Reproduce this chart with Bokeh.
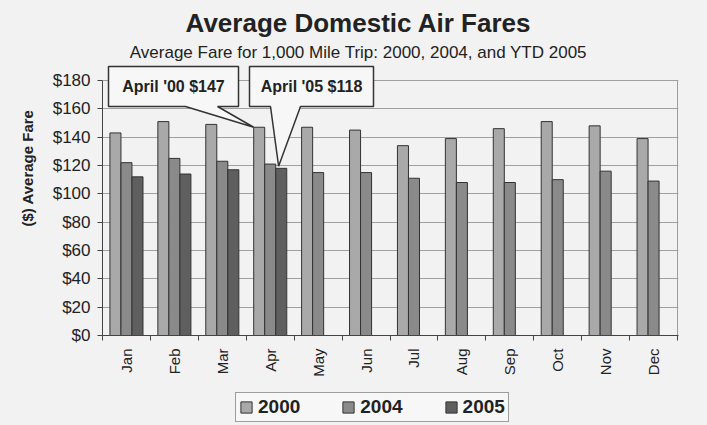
import math
from bokeh.plotting import figure
from bokeh.layouts import column
from bokeh.models import Range1d, FixedTicker, ColumnDataSource, Legend, LegendItem
from bokeh.core.properties import value
from bokeh.embed import file_html
from bokeh.resources import INLINE

# ---------------- data ----------------
months = ["Jan", "Feb", "Mar", "Apr", "May", "Jun",
          "Jul", "Aug", "Sep", "Oct", "Nov", "Dec"]
fare_2000 = [143, 151, 149, 147, 147, 145, 134, 139, 146, 151, 148, 139]
fare_2004 = [122, 125, 123, 121, 115, 115, 111, 108, 108, 110, 116, 109]
fare_2005 = [112, 114, 117, 118]          # YTD 2005 (Jan-Apr)
series_names = ["2000", "2004", "2005"]
y_ticks = [0, 20, 40, 60, 80, 100, 120, 140, 160, 180]
y_tick_labels = ["$0", "$20", "$40", "$60", "$80", "$100", "$120", "$140", "$160", "$180"]
title_text = "Average Domestic Air Fares"
subtitle_text = "Average Fare for 1,000 Mile Trip: 2000, 2004, and YTD 2005"
y_label = "($) Average Fare"
callout_texts = ["April '00 $147", "April '05 $118"]
callout_month = 3   # April

# ---------------- layout / style ----------------
FONT = "Liberation Sans"
BG = "#f2f2f2"
TXT = "#222222"
colors = ["#a9a9a9", "#8a8a8a", "#5f5f5f"]
BAR_W = 0.23
offsets = [-BAR_W, 0.0, BAR_W]
Y_MAX = 180
W = 707
H_MAIN, H_LEG = 380, 45
FRAME_L, FRAME_R, FRAME_B = 102, 678, 335
X_END = 12.02
PX_PER_X = (FRAME_R - FRAME_L) / X_END
PX_PER_Y = 255 / 180.0
y_end = FRAME_B / PX_PER_Y           # frame reaches the top of the canvas


def px_x(px):
    return (px - FRAME_L) / PX_PER_X


def px_y(py):
    return (FRAME_B - py) / PX_PER_Y


p = figure(width=W, height=H_MAIN,
           x_range=Range1d(0, X_END), y_range=Range1d(0, y_end),
           output_backend="svg", toolbar_location=None, title=None,
           min_border_left=FRAME_L, min_border_right=W - FRAME_R,
           min_border_top=0, min_border_bottom=H_MAIN - FRAME_B)
p.background_fill_color = BG
p.border_fill_color = BG
p.outline_line_color = None

# titles
p.text(x=[px_x(358)], y=[px_y(22)], text=[title_text], text_font=value(FONT),
       text_font_size="26px", text_font_style="bold", text_color=TXT,
       text_align="center", text_baseline="alphabetic")
p.text(x=[px_x(358)], y=[px_y(52)], text=[subtitle_text], text_font=value(FONT),
       text_font_size="17px", text_font_style="normal", text_color=TXT,
       text_align="center", text_baseline="alphabetic")

# bars
series = [fare_2000, fare_2004, fare_2005]
for vals, off, col in zip(series, offsets, colors):
    src = ColumnDataSource(dict(x=[i + 0.5 + off for i in range(len(vals))],
                                top=vals))
    p.vbar(x="x", top="top", width=BAR_W, bottom=0, source=src,
           fill_color=col, line_color="#333333", line_width=1)

# plot-area right border
p.line(x=[12, 12], y=[0, Y_MAX], line_color="#9a9a9a", line_width=1)

# callouts
box_top = px_y(66)
box_bot = px_y(106)
tip1 = (callout_month + 0.5 + offsets[0] - BAR_W / 2, fare_2000[callout_month])
tip2 = (callout_month + 0.5 + offsets[2] - BAR_W / 2 + 0.06, fare_2005[callout_month] + 1.5)
boxes = [(px_x(108), px_x(238), px_x(185), px_x(217), tip1),
         (px_x(249), px_x(373), px_x(270), px_x(300), tip2)]
cx, cy = [], []
for (x0, x1, b0, b1, tip) in boxes:
    xs = [x0, x1, x1, b1, tip[0], b0, x0]
    ys = [box_top, box_top, box_bot, box_bot, tip[1], box_bot, box_bot]
    p.patch(x=xs, y=ys, fill_color="#f7f7f7", line_color="#333333", line_width=1.5)
    cx.append((x0 + x1) / 2)
    cy.append((box_top + box_bot) / 2)
p.text(x=cx, y=cy, text=callout_texts, text_font=value(FONT), text_font_size="16px",
       text_font_style="bold", text_color=TXT, text_align="center", text_baseline="middle")

# axes
xa = p.xaxis[0]
xa.ticker = FixedTicker(ticks=[i + 0.5 for i in range(12)],
                        minor_ticks=list(range(13)))
xa.major_label_overrides = {i + 0.5: m for i, m in enumerate(months)}
xa.major_label_orientation = math.pi / 2
xa.major_label_text_font = FONT
xa.major_label_text_font_size = "15px"
xa.major_label_text_color = TXT
xa.major_label_standoff = 8
xa.major_tick_line_color = None
xa.major_tick_out = 5
xa.major_tick_in = 0
xa.minor_tick_line_color = "#444444"
xa.minor_tick_out = 5
xa.minor_tick_in = 0
xa.axis_line_color = "#444444"

ya = p.yaxis[0]
ya.ticker = FixedTicker(ticks=y_ticks, minor_ticks=[])
ya.major_label_overrides = {t: l for t, l in zip(y_ticks, y_tick_labels)}
ya.bounds = (0, Y_MAX)
ya.major_label_text_font = FONT
ya.major_label_text_font_size = "17px"
ya.major_label_text_color = TXT
ya.major_label_standoff = 7
ya.major_tick_out = 5
ya.major_tick_in = 0
ya.major_tick_line_color = "#444444"
ya.minor_tick_line_color = None
ya.axis_line_color = "#444444"
ya.axis_label = y_label
ya.axis_label_text_font = FONT
ya.axis_label_text_font_size = "15px"
ya.axis_label_text_font_style = "bold"
ya.axis_label_text_color = TXT
ya.axis_label_standoff = 14

p.xgrid.visible = False
p.ygrid.ticker = FixedTicker(ticks=y_ticks)
p.ygrid.grid_line_color = "#a0a0a0"
p.ygrid.grid_line_width = 1
p.ygrid.bounds = (0, 12)

# legend strip (separate canvas under the chart, same background)
q = figure(width=W, height=H_LEG, x_range=Range1d(0, 1), y_range=Range1d(0, 1),
           output_backend="svg", toolbar_location=None, title=None,
           x_axis_type=None, y_axis_type=None, min_border=0)
q.background_fill_color = BG
q.border_fill_color = BG
q.outline_line_color = None
q.grid.visible = False
keys = []
nan = float("nan")
for col in colors:
    # legend key only: a single undrawn (NaN) bar carrying the series style
    keys.append(q.vbar(x=[nan], top=[nan], width=0.1, fill_color=col,
                       line_color="#333333", line_width=1))
legend = Legend(items=[LegendItem(label=n, renderers=[r]) for n, r in zip(series_names, keys)],
                orientation="horizontal", location=(133, 3),
                label_text_font=FONT, label_text_font_size="19px",
                label_text_font_style="bold", label_text_color=TXT,
                glyph_width=14, glyph_height=14, label_standoff=5,
                spacing=41, padding=3, label_height=18,
                border_line_color="#444444", border_line_width=1.5,
                background_fill_color="#f7f7f7", background_fill_alpha=1)
q.add_layout(legend)

layout = column(p, q, spacing=0, styles={"background-color": BG})
open("out.html", "w").write(file_html(layout, INLINE))
